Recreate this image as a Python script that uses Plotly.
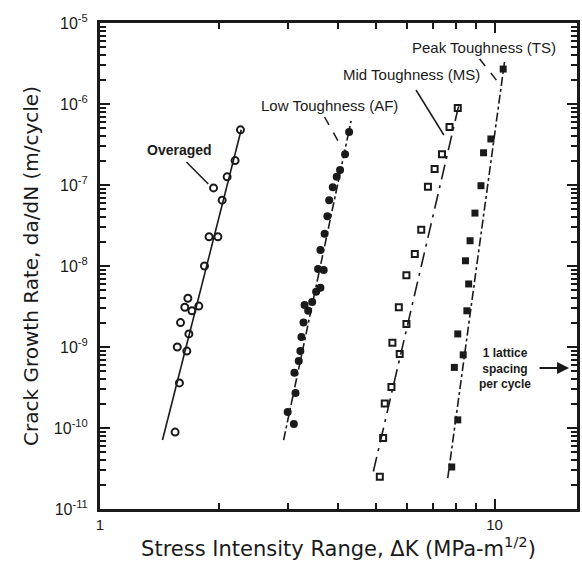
import plotly.graph_objects as go

# ---------------- data ----------------
over_K = [2.27, 2.20, 2.10, 1.94, 2.04, 1.89, 1.99, 1.84, 1.67, 1.64, 1.78, 1.71, 1.60, 1.68, 1.57, 1.66, 1.59, 1.55]
over_rate = [4.8e-7, 2.0e-7, 1.26e-7, 9.2e-8, 6.5e-8, 2.3e-8, 2.3e-8, 1.0e-8, 4.0e-9, 3.1e-9, 3.2e-9, 2.8e-9,
             2.0e-9, 1.45e-9, 1.0e-9, 8.9e-10, 3.6e-10, 8.9e-11]

low_K = [4.28, 4.18, 4.06, 3.98, 3.89, 3.81, 3.77, 3.71, 3.62, 3.57, 3.69, 3.62, 3.53, 3.45, 3.30, 3.37, 3.28,
         3.24, 3.22, 3.19, 3.11, 3.13, 2.99, 3.10]
low_rate = [4.5e-7, 2.4e-7, 1.53e-7, 1.26e-7, 9.4e-8, 6.5e-8, 4.1e-8, 2.5e-8, 1.58e-8, 9.2e-9, 8.9e-9, 5.4e-9,
            4.8e-9, 3.6e-9, 3.3e-9, 2.8e-9, 2.0e-9, 1.33e-9, 8.9e-10, 6.7e-10, 4.8e-10, 2.7e-10, 1.58e-10, 1.12e-10]

mid_K = [8.07, 7.69, 7.36, 7.05, 6.78, 6.52, 6.28, 5.98, 5.72, 5.98, 5.51, 5.75, 5.48, 5.27, 5.22, 5.12]
mid_rate = [8.9e-7, 5.2e-7, 2.4e-7, 1.58e-7, 9.5e-8, 2.8e-8, 1.41e-8, 7.7e-9, 3.1e-9, 1.92e-9, 1.13e-9, 8.2e-10,
            3.2e-10, 2.0e-10, 7.5e-11, 2.5e-11]

peak_K = [10.52, 9.79, 9.38, 9.24, 8.92, 8.67, 8.44, 8.60, 8.51, 8.07, 8.33, 7.91, 8.07, 7.79]
peak_rate = [2.7e-6, 3.7e-7, 2.5e-7, 9.8e-8, 4.5e-8, 2.05e-8, 1.16e-8, 6.0e-9, 2.8e-9, 1.45e-9, 8.0e-10, 5.6e-10,
             1.26e-10, 3.3e-11]

# fitted trend lines (end points)
over_fit_K = [1.44, 2.28]
over_fit_rate = [7.1e-11, 4.8e-7]
low_fit_K = [2.92, 4.33]
low_fit_rate = [7.1e-11, 6.2e-7]
mid_fit_K = [4.93, 8.12]
mid_fit_rate = [2.9e-11, 9.7e-7]
peak_fit_K = [7.61, 10.6]
peak_fit_rate = [2.4e-11, 3.3e-6]

y_tick_exps = [-11, -10, -9, -8, -7, -6, -5]
x_tick_vals = [1, 10]
x_tick_text = ["1", "10"]

# ---------------- figure ----------------
INK = "#1a1a1a"
FONT = "Liberation Sans"
TFONT = "DejaVu Sans"

fig = go.Figure()

def fit(xs, ys, dash):
    fig.add_trace(go.Scatter(x=xs, y=ys, mode="lines", line=dict(color=INK, width=1.6, dash=dash),
                             showlegend=False, hoverinfo="skip"))

fit(over_fit_K, over_fit_rate, "solid")
fit(low_fit_K, low_fit_rate, "dashdot")
fit(mid_fit_K, mid_fit_rate, "longdashdot")
fit(peak_fit_K, peak_fit_rate, "dashdot")

fig.add_trace(go.Scatter(x=over_K, y=over_rate, mode="markers", showlegend=False,
                         marker=dict(symbol="circle-open", size=7, color=INK, line=dict(width=2))))
fig.add_trace(go.Scatter(x=low_K, y=low_rate, mode="markers", showlegend=False,
                         marker=dict(symbol="circle", size=8, color=INK)))
fig.add_trace(go.Scatter(x=mid_K, y=mid_rate, mode="markers", showlegend=False,
                         marker=dict(symbol="square-open", size=6, color=INK, line=dict(width=2))))
fig.add_trace(go.Scatter(x=peak_K, y=peak_rate, mode="markers", showlegend=False,
                         marker=dict(symbol="square", size=7, color=INK)))

# pixel -> paper helpers for annotation placement
L, R, T, B = 100, 580, 23, 509
def px(x):
    return (x - L) / (R - L)
def py(y):
    return (B - y) / (B - T)

labels = [
    ("Peak Toughness (TS)", 486, 47, 15),
    ("Mid Toughness (MS)", 413, 75, 15),
    ("Low Toughness (AF)", 331, 105, 15),
    ("<b>Overaged</b>", 180, 150, 14),
]
for txt, x, y, s in labels:
    fig.add_annotation(text=txt, x=px(x), y=py(y), xref="paper", yref="paper", showarrow=False,
                       font=dict(family=FONT, size=s, color=INK), xanchor="center", yanchor="middle")

fig.add_annotation(text="<b>1 lattice<br>spacing<br>per cycle</b>", x=px(508), y=py(368), xref="paper",
                   yref="paper", showarrow=False, align="center", xanchor="center", yanchor="middle",
                   font=dict(family=FONT, size=12, color=INK))
fig.add_annotation(text="", x=px(572), y=py(368), ax=-31, ay=0, xref="paper", yref="paper",
                   axref="pixel", ayref="pixel", showarrow=True, arrowhead=2, arrowsize=1.2, arrowwidth=2,
                   arrowcolor=INK)

leaders = [
    ((187, 162), (209, 184), "solid"),
    ((326, 117), (343, 147), "dash"),
    ((418, 90), (446, 135), "solid"),
    ((482, 59), (502, 84), "dash"),
]
for (x0, y0), (x1, y1), d in leaders:
    fig.add_shape(type="line", xref="paper", yref="paper", x0=px(x0), y0=py(y0), x1=px(x1), y1=py(y1),
                  line=dict(color=INK, width=1.5, dash=d))

y_minor = [m * 10.0 ** e for e in range(-11, -5) for m in range(2, 10)]
x_minor = list(range(2, 10)) + [20]

fig.update_xaxes(type="log", range=[0, (R - L) / 397],
                 tickvals=x_tick_vals, ticktext=x_tick_text, ticks="inside", ticklen=10, tickwidth=1.5,
                 tickcolor=INK, showline=True, linewidth=3, linecolor=INK, mirror="ticks", showgrid=False,
                 zeroline=False, tickfont=dict(family=FONT, size=15, color=INK),
                 minor=dict(tickvals=x_minor, ticks="inside", ticklen=6, tickcolor=INK, showgrid=False),
                 title=dict(text="Stress Intensity Range, ΔK (MPa-m<sup>1/2</sup>)",
                            font=dict(family=TFONT, size=21, color=INK), standoff=3))
fig.update_yaxes(type="log", range=[-11, -5],
                 tickvals=[10.0 ** e for e in y_tick_exps],
                 ticktext=["10<sup>%d</sup>" % e for e in y_tick_exps],
                 ticks="inside", ticklen=10, tickwidth=1.5, tickcolor=INK, showline=True, linewidth=3,
                 linecolor=INK, mirror="ticks", showgrid=False, zeroline=False,
                 ticklabelstandoff=6, tickfont=dict(family=FONT, size=16, color=INK),
                 minor=dict(tickvals=y_minor, ticks="inside", ticklen=6, tickcolor=INK, showgrid=False),
                 title=dict(text="Crack Growth Rate, da/dN (m/cycle)",
                            font=dict(family=TFONT, size=20, color=INK), standoff=10))

fig.update_layout(width=582, height=569, margin=dict(l=L, r=582 - R, t=T, b=569 - B),
                  paper_bgcolor="white", plot_bgcolor="white", showlegend=False)

fig.write_html("out.html")
